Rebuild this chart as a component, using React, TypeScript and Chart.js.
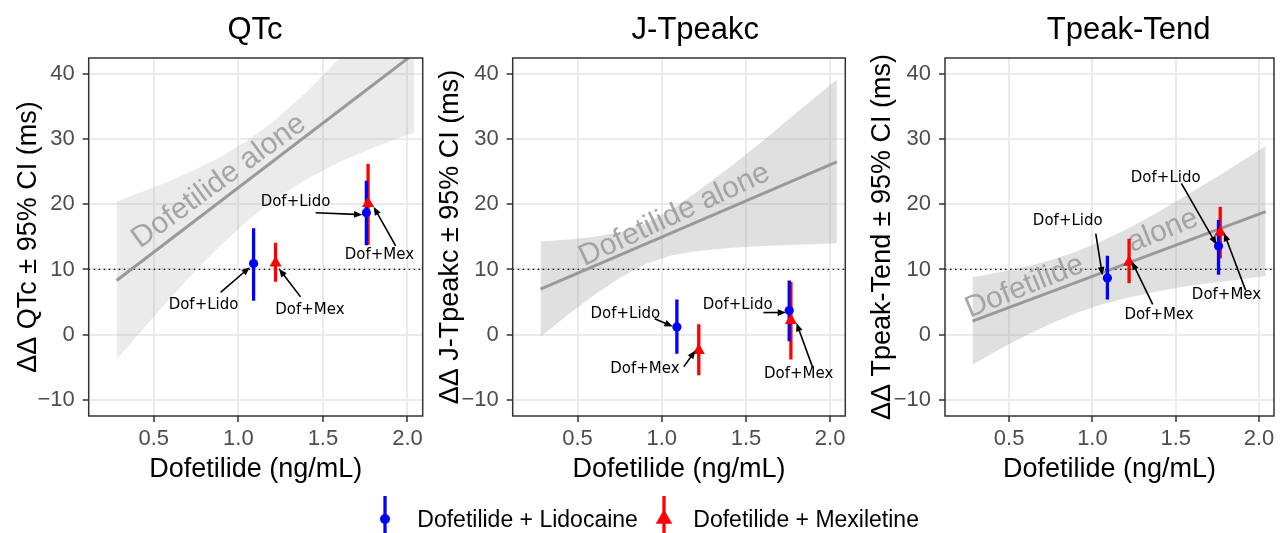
import React, { useEffect, useRef } from 'react';
import { Chart, registerables } from 'chart.js';

Chart.register(...registerables);

// ---------------- data ----------------
const panelTitles = ['QTc', 'J-Tpeakc', 'Tpeak-Tend'];
const yAxisTitles = [
  'ΔΔ QTc ± 95% CI (ms)',
  'ΔΔ J-Tpeakc ± 95% CI (ms)',
  'ΔΔ Tpeak-Tend ± 95% CI (ms)',
];
const xAxisTitle = 'Dofetilide (ng/mL)';
const xTickValues = [0.5, 1.0, 1.5, 2.0];
const yTickValues = [-10, 0, 10, 20, 30, 40];
const xRange = [0.115, 2.09];
const yRange = [-12.45, 42.4];
const referenceLevel = 10;

const aloneTexts = ['Dofetilide alone', 'Dofetilide alone', 'Dofetilide      alone'];
const aloneX = [0.885, 1.076, 0.936];
const aloneY = [23.5, 18.35, 10.9];

// Dofetilide-alone regression fit and its 95% band
const fitX = [0.28, 2.04];
const qtcFit = [8.3, 43.1];
const jtFit = [7.0, 26.5];
const tpFit = [2.1, 18.85];

const bandX = [0.28, 0.45, 0.6, 0.75, 0.9, 1.05, 1.2, 1.4, 1.6, 1.8, 2.04];
const qtcBandLo = [-3.8, 1.3, 5.7, 9.9, 13.8, 17.4, 20.5, 23.8, 26.5, 28.7, 31.0];
const qtcBandHi = [20.4, 22.1, 23.6, 25.4, 27.3, 29.7, 32.5, 37.1, 42.4, 48.1, 55.3];
const jtBandLo = [-0.3, 3.2, 6.1, 8.7, 10.8, 12.1, 12.8, 13.3, 13.6, 13.8, 14.0];
const jtBandHi = [14.3, 14.6, 15.0, 15.7, 17.0, 19.0, 21.7, 25.6, 29.7, 34.0, 39.1];
const tpBandLo = [-4.6, -2.1, -0.1, 1.7, 3.3, 4.6, 5.6, 6.7, 7.6, 8.2, 9.0];
const tpBandHi = [8.8, 9.6, 10.4, 11.4, 12.7, 14.3, 16.1, 18.9, 21.9, 25.0, 28.9];

// Combination arms: point estimates and 95% CI
const lidoDose = [1.09, 1.757];
const mexDose = [1.22, 1.767];

const qtcLido = [10.9, 18.7];
const qtcLidoLo = [5.2, 13.7];
const qtcLidoHi = [16.3, 23.6];
const qtcMex = [11.0, 20.1];
const qtcMexLo = [8.1, 13.8];
const qtcMexHi = [14.1, 26.2];

const jtLido = [1.2, 3.7];
const jtLidoLo = [-2.9, -1.0];
const jtLidoHi = [5.4, 8.3];
const jtMex = [-2.4, 2.2];
const jtMexLo = [-6.2, -3.8];
const jtMexHi = [1.6, 8.1];

const tpLido = [8.7, 13.6];
const tpLidoLo = [5.4, 9.2];
const tpLidoHi = [12.1, 17.6];
const tpMex = [11.1, 15.7];
const tpMexLo = [7.9, 11.7];
const tpMexHi = [14.7, 19.6];

// annotation labels with arrows
const annoLabels = ['Dof+Lido', 'Dof+Mex', 'Dof+Lido', 'Dof+Mex'];
const qtcLabelX = [0.794, 1.423, 1.338, 1.834];
const qtcLabelY = [4.6, 3.8, 20.3, 12.25];
const qtcFromX = [0.895, 1.368, 1.457, 1.93];
const qtcFromY = [6.5, 5.8, 18.7, 13.6];
const qtcToX = [1.068, 1.24, 1.733, 1.8];
const qtcToY = [10.35, 10.1, 18.4, 19.6];

const jtLabelX = [0.784, 0.9, 1.451, 1.813];
const jtLabelY = [3.1, -5.2, 4.55, -6.0];
const jtFromX = [0.958, 1.131, 1.604, 1.896];
const jtFromY = [2.46, -4.9, 3.4, -5.0];
const jtToX = [1.066, 1.2, 1.738, 1.8];
const jtToY = [1.28, -2.4, 3.4, 1.8];

const tpLabelX = [0.852, 1.4, 1.44, 1.805];
const tpLabelY = [17.4, 3.0, 24.0, 6.0];
const tpFromX = [1.02, 1.362, 1.534, 1.92];
const tpFromY = [15.5, 4.64, 23.2, 6.8];
const tpToX = [1.06, 1.237, 1.745, 1.79];
const tpToY = [9.1, 11.2, 13.8, 15.6];

const legendLabels = ['Dofetilide + Lidocaine', 'Dofetilide + Mexiletine'];

// ---------------- layout / style ----------------
const W = 1281;
const H = 533;
const plotTop = 58;
const plotBottom = 416;
const xScaleBottom = 486.2;
const plotLefts = [88.7, 512.7, 945];
const plotRights = [422.7, 845.3, 1277.3];
const yAxisWidths = [76.6, 78.1, 78.7];
const titleCenters = [255, 695.3, 1128.7];
const aloneAngles = [-36, -25, -22];
const bandColors = ['rgba(153,153,153,0.2)', 'rgba(153,153,153,0.3)', 'rgba(153,153,153,0.3)'];
const legendKeyX = [385, 664];
const legendTextX = [417.3, 693.3];
const BLUE = '#0000ff';
const RED = '#ff0000';
const SANS = 'Liberation Sans, Arial, sans-serif';

const panels = [
  {
    fit: qtcFit, bandLo: qtcBandLo, bandHi: qtcBandHi,
    lido: qtcLido, lidoLo: qtcLidoLo, lidoHi: qtcLidoHi,
    mex: qtcMex, mexLo: qtcMexLo, mexHi: qtcMexHi,
    labelX: qtcLabelX, labelY: qtcLabelY, fromX: qtcFromX, fromY: qtcFromY, toX: qtcToX, toY: qtcToY,
  },
  {
    fit: jtFit, bandLo: jtBandLo, bandHi: jtBandHi,
    lido: jtLido, lidoLo: jtLidoLo, lidoHi: jtLidoHi,
    mex: jtMex, mexLo: jtMexLo, mexHi: jtMexHi,
    labelX: jtLabelX, labelY: jtLabelY, fromX: jtFromX, fromY: jtFromY, toX: jtToX, toY: jtToY,
  },
  {
    fit: tpFit, bandLo: tpBandLo, bandHi: tpBandHi,
    lido: tpLido, lidoLo: tpLidoLo, lidoHi: tpLidoHi,
    mex: tpMex, mexLo: tpMexLo, mexHi: tpMexHi,
    labelX: tpLabelX, labelY: tpLabelY, fromX: tpFromX, fromY: tpFromY, toX: tpToX, toY: tpToY,
  },
];

function xy(xs: number[], ys: number[]) {
  return xs.map((x, i) => ({ x, y: ys[i] }));
}

function drawArrow(ctx: CanvasRenderingContext2D, x1: number, y1: number, x2: number, y2: number) {
  const a = Math.atan2(y2 - y1, x2 - x1);
  const L = 9;
  const w = (22 * Math.PI) / 180;
  ctx.beginPath();
  ctx.moveTo(x1, y1);
  ctx.lineTo(x2 - (L - 2) * Math.cos(a), y2 - (L - 2) * Math.sin(a));
  ctx.stroke();
  ctx.beginPath();
  ctx.moveTo(x2, y2);
  ctx.lineTo(x2 - L * Math.cos(a - w), y2 - L * Math.sin(a - w));
  ctx.lineTo(x2 - L * Math.cos(a + w), y2 - L * Math.sin(a + w));
  ctx.closePath();
  ctx.fill();
}

function makePlugin(i: number, fitIndex: number) {
  const p = panels[i];
  return {
    id: 'overlay' + i,
    afterDatasetDraw(chart: any, args: any) {
      if (args.index !== fitIndex) return;
      const { ctx, scales } = chart;
      const xs = scales.x;
      const ys = scales.y;
      ctx.save();
      ctx.translate(xs.getPixelForValue(aloneX[i]), ys.getPixelForValue(aloneY[i]));
      ctx.rotate((aloneAngles[i] * Math.PI) / 180);
      ctx.font = `30px ${SANS}`;
      ctx.fillStyle = 'rgba(153,153,153,0.85)';
      ctx.textAlign = 'center';
      ctx.textBaseline = 'middle';
      ctx.fillText(aloneTexts[i], 0, 0);
      ctx.restore();
    },
    afterDatasetsDraw(chart: any) {
      const { ctx, scales } = chart;
      const xs = scales.x;
      const ys = scales.y;
      ctx.save();
      ctx.strokeStyle = '#000';
      ctx.fillStyle = '#000';
      ctx.lineWidth = 1.6;
      ctx.lineCap = 'butt';
      for (let k = 0; k < annoLabels.length; k++) {
        drawArrow(
          ctx,
          xs.getPixelForValue(p.fromX[k]), ys.getPixelForValue(p.fromY[k]),
          xs.getPixelForValue(p.toX[k]), ys.getPixelForValue(p.toY[k]),
        );
      }
      ctx.font = '15px "DejaVu Sans", sans-serif';
      ctx.textAlign = 'center';
      ctx.textBaseline = 'middle';
      for (let k = 0; k < annoLabels.length; k++) {
        ctx.fillText(annoLabels[k], xs.getPixelForValue(p.labelX[k]), ys.getPixelForValue(p.labelY[k]));
      }
      ctx.restore();
    },
    afterDraw(chart: any) {
      const { ctx, chartArea } = chart;
      ctx.save();
      // panel border
      ctx.strokeStyle = '#333333';
      ctx.lineWidth = 1.5;
      ctx.strokeRect(chartArea.left, chartArea.top, chartArea.right - chartArea.left, chartArea.bottom - chartArea.top);
      // panel title
      ctx.fillStyle = '#000';
      ctx.font = `31px ${SANS}`;
      ctx.textAlign = 'center';
      ctx.textBaseline = 'alphabetic';
      ctx.fillText(panelTitles[i], titleCenters[i], 39.3);
      // legend (drawn once, on the middle panel's canvas)
      if (i === 1) {
        const cy = 519;
        const colors = [BLUE, RED];
        for (let k = 0; k < 2; k++) {
          const kx = legendKeyX[k];
          ctx.strokeStyle = colors[k];
          ctx.fillStyle = colors[k];
          ctx.lineWidth = 3.3;
          ctx.beginPath();
          ctx.moveTo(kx, 496);
          ctx.lineTo(kx, 533);
          ctx.stroke();
          ctx.beginPath();
          if (k === 0) {
            ctx.arc(kx, cy, 5, 0, Math.PI * 2);
          } else {
            const r = 9.5;
            ctx.moveTo(kx, cy - r);
            ctx.lineTo(kx + r * Math.sin((2 * Math.PI) / 3), cy - r * Math.cos((2 * Math.PI) / 3));
            ctx.lineTo(kx - r * Math.sin((2 * Math.PI) / 3), cy - r * Math.cos((2 * Math.PI) / 3));
            ctx.closePath();
          }
          ctx.fill();
          ctx.fillStyle = '#000';
          ctx.font = `23px ${SANS}`;
          ctx.textAlign = 'left';
          ctx.textBaseline = 'alphabetic';
          ctx.fillText(legendLabels[k], legendTextX[k], 526.5);
        }
      }
      ctx.restore();
    },
  };
}

function buildConfig(i: number): any {
  const p = panels[i];
  const datasets: any[] = [];
  const lineBase = { showLine: true, pointRadius: 0, pointHoverRadius: 0, tension: 0, fill: false };
  datasets.push({ ...lineBase, data: xy(bandX, p.bandLo), borderWidth: 0, borderColor: 'rgba(0,0,0,0)', order: 100, clip: 0 });
  datasets.push({ ...lineBase, data: xy(bandX, p.bandHi), borderWidth: 0, borderColor: 'rgba(0,0,0,0)', fill: '-1', backgroundColor: bandColors[i], order: 99, clip: 0 });
  datasets.push({
    ...lineBase,
    data: [{ x: xRange[0], y: referenceLevel }, { x: xRange[1], y: referenceLevel }],
    borderColor: '#000', borderWidth: 1.3, borderDash: [1.5, 3.5], order: 90, clip: 0,
  });
  const fitIndex = datasets.length;
  datasets.push({ ...lineBase, data: xy(fitX, p.fit), borderColor: '#999999', borderWidth: 3, order: 80, clip: 0, borderCapStyle: 'butt' });
  for (let j = 0; j < mexDose.length; j++) {
    datasets.push({
      ...lineBase,
      data: [{ x: mexDose[j], y: p.mexLo[j] }, { x: mexDose[j], y: p.mexHi[j] }],
      borderColor: RED, borderWidth: 3.3, order: 60, borderCapStyle: 'butt',
    });
  }
  for (let j = 0; j < lidoDose.length; j++) {
    datasets.push({
      ...lineBase,
      data: [{ x: lidoDose[j], y: p.lidoLo[j] }, { x: lidoDose[j], y: p.lidoHi[j] }],
      borderColor: BLUE, borderWidth: 3.3, order: 55, borderCapStyle: 'butt',
    });
  }
  datasets.push({
    data: xy(mexDose, p.mex), pointStyle: 'triangle', pointRadius: 7, pointHoverRadius: 7,
    backgroundColor: RED, borderColor: 'rgba(0,0,0,0)', borderWidth: 0, order: 20,
  });
  datasets.push({
    data: xy(lidoDose, p.lido), pointStyle: 'circle', pointRadius: 4.6, pointHoverRadius: 4.6,
    backgroundColor: BLUE, borderColor: 'rgba(0,0,0,0)', borderWidth: 0, order: 10,
  });

  const tickFont = { family: SANS, size: 22 };
  const titleFont = { family: SANS, size: 27 };

  return {
    type: 'scatter',
    data: { datasets },
    options: {
      responsive: false,
      animation: false,
      devicePixelRatio: 1,
      events: [],
      layout: {
        padding: {
          left: plotLefts[i] - yAxisWidths[i],
          right: W - plotRights[i],
          top: plotTop,
          bottom: H - xScaleBottom,
        },
      },
      plugins: { legend: { display: false }, tooltip: { enabled: false }, title: { display: false } },
      scales: {
        x: {
          type: 'linear',
          min: xRange[0],
          max: xRange[1],
          afterBuildTicks: (s: any) => { s.ticks = xTickValues.map((v) => ({ value: v })); },
          afterFit: (s: any) => { s.height = xScaleBottom - plotBottom; s.paddingLeft = 0; s.paddingRight = 0; },
          ticks: {
            callback: (v: any) => Number(v).toFixed(1),
            font: tickFont, color: '#4d4d4d', padding: 3.5, maxRotation: 0, autoSkip: false,
          },
          grid: { color: '#ebebeb', lineWidth: 2, tickColor: '#333333', tickLength: 6, tickWidth: 1.5 },
          border: { display: false },
          title: { display: true, text: xAxisTitle, font: titleFont, color: '#000', padding: { top: 0, bottom: 0 } },
        },
        y: {
          type: 'linear',
          position: 'left',
          min: yRange[0],
          max: yRange[1],
          afterBuildTicks: (s: any) => { s.ticks = yTickValues.map((v) => ({ value: v })); },
          afterFit: (s: any) => { s.width = yAxisWidths[i]; s.paddingTop = 0; s.paddingBottom = 0; },
          ticks: {
            callback: (v: any) => (Number(v) < 0 ? '−' + Math.abs(Number(v)) : String(v)),
            font: tickFont, color: '#4d4d4d', padding: 8,
          },
          grid: { color: '#ebebeb', lineWidth: 2, tickColor: '#333333', tickLength: 6, tickWidth: 1.5 },
          border: { display: false },
          title: { display: true, text: yAxisTitles[i], font: titleFont, color: '#000', padding: { top: 0, bottom: 0 } },
        },
      },
    },
    plugins: [makePlugin(i, fitIndex)],
  };
}

export default function App() {
  const r0 = useRef<HTMLCanvasElement>(null);
  const r1 = useRef<HTMLCanvasElement>(null);
  const r2 = useRef<HTMLCanvasElement>(null);
  const refs = [r0, r1, r2];

  useEffect(() => {
    const charts = refs.map((r, i) => new Chart(r.current as HTMLCanvasElement, buildConfig(i)));
    return () => charts.forEach((c) => c.destroy());
  }, []);

  return (
    <div style={{ position: 'fixed', left: 0, top: 0, width: W, height: H, background: '#ffffff', overflow: 'hidden' }}>
      {refs.map((r, i) => (
        <canvas
          key={i}
          ref={r}
          width={W}
          height={H}
          style={{ position: 'absolute', left: 0, top: 0, width: W, height: H }}
        />
      ))}
    </div>
  );
}
